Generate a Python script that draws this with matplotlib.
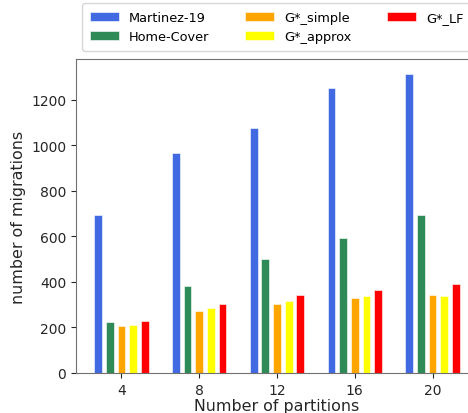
import matplotlib
matplotlib.use("Agg")
import matplotlib.pyplot as plt
import numpy as np

plt.rcParams["font.family"] = ["DejaVu Sans"]

partitions = ["4", "8", "12", "16", "20"]
series_names = ["Martinez-19", "Home-Cover", "G*_simple", "G*_approx", "G*_LF"]
martinez = [694, 968, 1077, 1251, 1314]
home_cover = [223, 381, 500, 593, 694]
g_simple = [205, 273, 303, 328, 343]
g_approx = [211, 284, 315, 337, 337]
g_lf = [227, 303, 341, 366, 391]
colors = ["royalblue", "seagreen", "orange", "yellow", "red"]

values = [martinez, home_cover, g_simple, g_approx, g_lf]

fig = plt.figure(figsize=(4.68, 4.14), dpi=100)
ax = fig.add_axes([76/468, 40/414, (478-76)/468, (374-60)/414])

x = np.arange(len(partitions))
step = 0.15
width = 0.1
for i, (name, vals, c) in enumerate(zip(series_names, values, colors)):
    ax.bar(x + (i - 2) * step, vals, width, color=c, label=name,
           edgecolor="white", linewidth=0.4)

ax.set_xticks(x)
ax.set_xticklabels(partitions)
ax.set_yticks([0, 200, 400, 600, 800, 1000, 1200])
ax.tick_params(labelsize=10, colors="#262626")
ax.set_xlabel("Number of partitions", fontsize=11.4, color="#262626", labelpad=1)
ax.set_ylabel("number of migrations", fontsize=11.4, color="#262626", labelpad=4)
for s in ax.spines.values():
    s.set_color("#707070")

ax.legend(loc="lower center", bbox_to_anchor=(0.5, 1.0 + 8/314), borderaxespad=0,
          ncol=3, fontsize=9.3, handlelength=2.25, columnspacing=2.75,
          borderpad=0.6)

fig.savefig("out.png", dpi=100)
